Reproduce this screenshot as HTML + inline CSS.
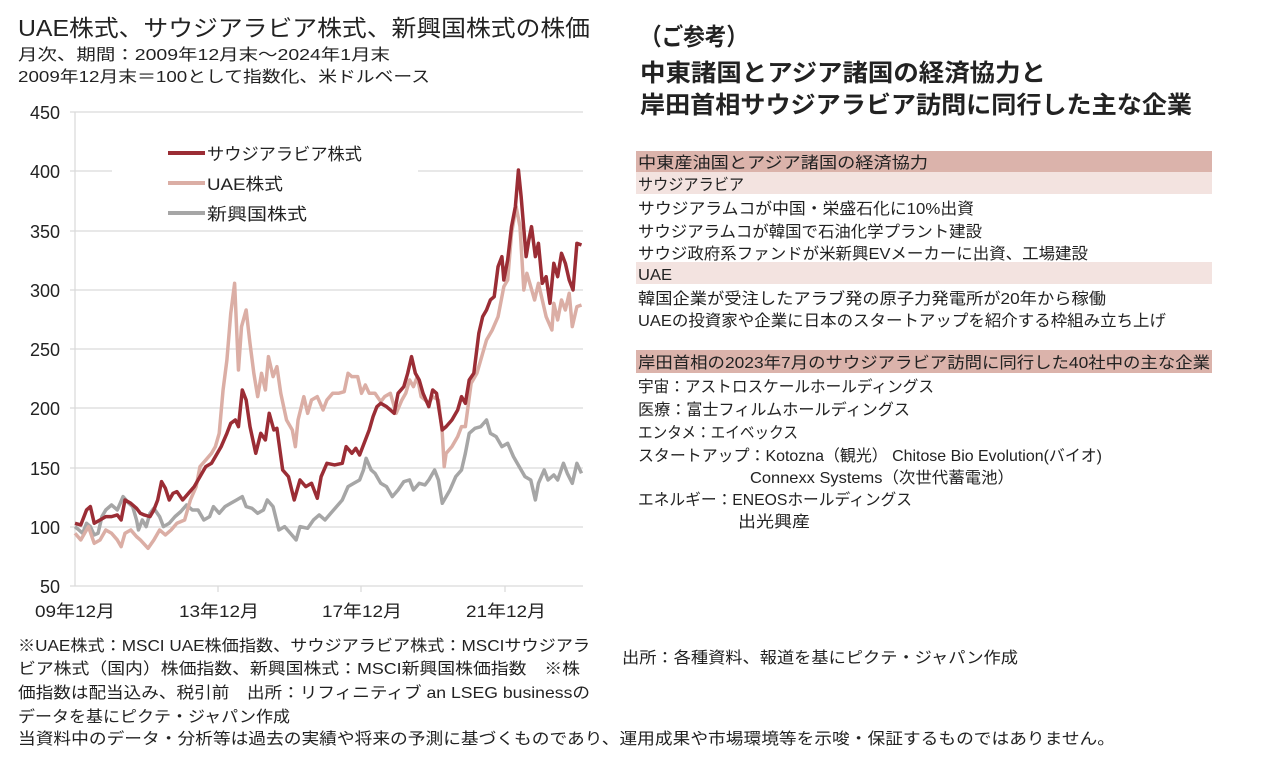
<!DOCTYPE html>
<html><head><meta charset="utf-8"><style>
html,body{margin:0;padding:0;background:#fff;}
svg{display:block;}
text{font-family:"Liberation Sans","Noto Sans CJK JP",sans-serif;fill:#222;}
</style></head><body>
<svg width="1280" height="769" viewBox="0 0 1280 769" xmlns="http://www.w3.org/2000/svg">
<!-- Titles -->
<text x="18" y="36" font-size="23" textLength="572" lengthAdjust="spacingAndGlyphs">UAE株式、サウジアラビア株式、新興国株式の株価</text>
<text x="18" y="60" font-size="16" textLength="372" lengthAdjust="spacingAndGlyphs">月次、期間：2009年12月末～2024年1月末</text>
<text x="18" y="82" font-size="16" textLength="412" lengthAdjust="spacingAndGlyphs">2009年12月末＝100として指数化、米ドルベース</text>

<text x="640" y="45" font-size="24" font-weight="bold" textLength="108" lengthAdjust="spacingAndGlyphs">（ご参考）</text>
<text x="640" y="81" font-size="24" font-weight="bold" textLength="406" lengthAdjust="spacingAndGlyphs">中東諸国とアジア諸国の経済協力と</text>
<text x="640" y="113" font-size="24" font-weight="bold" textLength="552" lengthAdjust="spacingAndGlyphs">岸田首相サウジアラビア訪問に同行した主な企業</text>

<!-- Chart grid -->
<g stroke="#d9d9d9" stroke-width="1.2">
<line x1="75" y1="112" x2="583" y2="112"/>
<line x1="75" y1="171" x2="112" y2="171"/><line x1="418" y1="171" x2="583" y2="171"/>
<line x1="75" y1="231" x2="583" y2="231"/>
<line x1="75" y1="290" x2="583" y2="290"/>
<line x1="75" y1="349" x2="583" y2="349"/>
<line x1="75" y1="408" x2="583" y2="408"/>
<line x1="75" y1="468" x2="583" y2="468"/>
<line x1="75" y1="527" x2="583" y2="527"/>
<line x1="75" y1="586" x2="583" y2="586"/>
<line x1="75" y1="112" x2="75" y2="586"/>
<line x1="70" y1="112" x2="75" y2="112"/><line x1="70" y1="171" x2="75" y2="171"/><line x1="70" y1="231" x2="75" y2="231"/><line x1="70" y1="290" x2="75" y2="290"/><line x1="70" y1="349" x2="75" y2="349"/><line x1="70" y1="408" x2="75" y2="408"/><line x1="70" y1="468" x2="75" y2="468"/><line x1="70" y1="527" x2="75" y2="527"/><line x1="70" y1="586" x2="75" y2="586"/>
<line x1="218" y1="586" x2="218" y2="592"/><line x1="361" y1="586" x2="361" y2="592"/><line x1="505" y1="586" x2="505" y2="592"/>
</g>
<g font-size="18" text-anchor="end" fill="#333">
<text x="60" y="119">450</text><text x="60" y="178">400</text><text x="60" y="238">350</text><text x="60" y="297">300</text><text x="60" y="356">250</text><text x="60" y="415">200</text><text x="60" y="475">150</text><text x="60" y="534">100</text><text x="60" y="593">50</text>
</g>
<g font-size="17" text-anchor="middle">
<text x="75" y="617" textLength="80" lengthAdjust="spacingAndGlyphs">09年12月</text>
<text x="219" y="617" textLength="80" lengthAdjust="spacingAndGlyphs">13年12月</text>
<text x="362" y="617" textLength="80" lengthAdjust="spacingAndGlyphs">17年12月</text>
<text x="506" y="617" textLength="80" lengthAdjust="spacingAndGlyphs">21年12月</text>
</g>

<!-- Series (zoom coords) -->
<g transform="translate(0,100) scale(0.3846,0.3333)" fill="none" stroke-linejoin="round">
<polyline vector-effect="non-scaling-stroke" stroke="#a6a6a6" stroke-width="3.5" points="195,1280 205,1290 215,1300 225,1270 235,1280 245,1305 255,1300 265,1250 275,1230 290,1215 305,1230 320,1190 335,1210 345,1220 355,1260 360,1290 370,1260 380,1280 390,1240 400,1225 415,1250 425,1280 440,1270 455,1250 470,1235 485,1215 500,1230 515,1230 530,1260 545,1250 555,1220 570,1240 585,1220 600,1210 615,1200 630,1190 640,1220 655,1225 670,1240 685,1230 695,1200 710,1220 725,1290 740,1280 755,1300 770,1320 780,1280 800,1285 815,1260 830,1245 845,1260 860,1240 875,1220 890,1200 905,1160 920,1150 935,1140 945,1110 952,1075 965,1110 975,1120 990,1150 1005,1160 1020,1190 1035,1170 1050,1145 1065,1140 1075,1170 1090,1150 1105,1155 1115,1140 1130,1110 1140,1140 1150,1210 1160,1190 1170,1170 1185,1130 1200,1110 1210,1060 1220,1000 1235,985 1250,980 1265,960 1275,1000 1290,1010 1305,1040 1320,1030 1335,1070 1350,1100 1365,1130 1380,1140 1392,1200 1400,1150 1415,1110 1425,1140 1440,1125 1450,1140 1465,1090 1475,1120 1488,1150 1500,1090 1512,1120"/>
<polyline vector-effect="non-scaling-stroke" stroke="#dbaea5" stroke-width="3.5" points="195,1300 210,1320 220,1300 230,1280 245,1330 260,1320 275,1290 290,1300 305,1320 315,1340 325,1300 340,1290 355,1310 365,1320 385,1345 400,1320 415,1290 430,1305 445,1290 460,1270 480,1260 495,1200 510,1160 520,1100 535,1080 550,1060 560,1040 570,1000 580,870 590,780 600,640 610,550 620,810 628,680 640,630 650,730 660,820 670,890 680,820 690,870 698,770 710,830 720,800 730,880 745,960 760,990 768,1040 775,960 790,890 800,940 810,900 825,890 840,930 850,900 865,880 880,880 895,875 905,820 915,830 930,830 940,880 950,855 960,880 975,880 990,905 1000,890 1015,880 1030,940 1045,900 1055,880 1065,840 1075,860 1085,830 1095,890 1105,900 1115,910 1125,890 1140,900 1150,1000 1155,1100 1160,1060 1175,1040 1190,1010 1200,980 1210,980 1225,850 1240,820 1255,760 1265,720 1280,690 1295,650 1310,560 1320,540 1330,400 1342,320 1352,380 1362,570 1370,520 1380,560 1390,600 1400,550 1410,600 1420,650 1435,690 1440,610 1450,660 1460,600 1470,630 1480,580 1488,680 1500,620 1512,615"/>
<polyline vector-effect="non-scaling-stroke" stroke="#9b2d35" stroke-width="3.5" points="195,1270 210,1275 225,1230 235,1220 245,1270 260,1260 275,1250 290,1250 305,1245 315,1260 325,1200 340,1210 355,1225 365,1240 375,1245 390,1250 400,1230 410,1200 420,1145 430,1165 440,1200 450,1180 460,1175 475,1200 490,1180 505,1160 520,1130 535,1100 550,1090 560,1070 575,1040 590,1000 600,970 612,960 620,980 630,870 640,900 650,980 665,1060 678,1000 690,1020 700,940 712,990 720,985 735,1110 750,1130 765,1200 780,1140 795,1160 810,1150 825,1195 835,1130 850,1090 870,1095 890,1090 900,1040 915,1060 925,1045 935,1065 950,1020 960,990 970,950 980,920 990,910 1005,920 1015,930 1025,940 1035,880 1050,860 1060,820 1070,770 1080,820 1090,840 1100,880 1115,920 1125,870 1135,880 1150,990 1160,980 1175,960 1190,930 1200,890 1210,910 1220,840 1232,820 1245,700 1255,650 1265,630 1275,600 1285,590 1295,500 1305,470 1310,540 1320,480 1330,380 1340,320 1348,210 1355,290 1368,470 1375,420 1382,380 1392,470 1400,430 1410,550 1420,530 1430,610 1440,490 1450,530 1460,460 1470,490 1480,540 1490,570 1500,430 1512,435"/>
</g>

<!-- Legend -->
<line x1="168" y1="153" x2="205" y2="153" stroke="#9b2d35" stroke-width="4"/>
<line x1="168" y1="183" x2="205" y2="183" stroke="#dbaea5" stroke-width="4"/>
<line x1="168" y1="213" x2="205" y2="213" stroke="#a6a6a6" stroke-width="4"/>
<text x="207" y="160" font-size="17" textLength="155" lengthAdjust="spacingAndGlyphs">サウジアラビア株式</text>
<text x="207" y="190" font-size="17" textLength="76" lengthAdjust="spacingAndGlyphs">UAE株式</text>
<text x="207" y="220" font-size="17" textLength="100" lengthAdjust="spacingAndGlyphs">新興国株式</text>

<!-- Table -->
<rect x="636" y="151" width="576" height="21" fill="#dbb3ab"/>
<rect x="636" y="172" width="576" height="22" fill="#f3e3e0"/>
<rect x="636" y="262" width="576" height="22" fill="#f3e3e0"/>
<rect x="636" y="350" width="576" height="23" fill="#dbb3ab"/>
<g font-size="16">
<text x="638" y="168" textLength="290" lengthAdjust="spacingAndGlyphs">中東産油国とアジア諸国の経済協力</text>
<text x="638" y="190" textLength="106" lengthAdjust="spacingAndGlyphs">サウジアラビア</text>
<text x="638" y="214" textLength="336" lengthAdjust="spacingAndGlyphs">サウジアラムコが中国・栄盛石化に10%出資</text>
<text x="638" y="237" textLength="344" lengthAdjust="spacingAndGlyphs">サウジアラムコが韓国で石油化学プラント建設</text>
<text x="638" y="259" textLength="450" lengthAdjust="spacingAndGlyphs">サウジ政府系ファンドが米新興EVメーカーに出資、工場建設</text>
<text x="638" y="280" textLength="34" lengthAdjust="spacingAndGlyphs">UAE</text>
<text x="638" y="304" textLength="468" lengthAdjust="spacingAndGlyphs">韓国企業が受注したアラブ発の原子力発電所が20年から稼働</text>
<text x="638" y="326" textLength="528" lengthAdjust="spacingAndGlyphs">UAEの投資家や企業に日本のスタートアップを紹介する枠組み立ち上げ</text>
<text x="638" y="368" textLength="572" lengthAdjust="spacingAndGlyphs">岸田首相の2023年7月のサウジアラビア訪問に同行した40社中の主な企業</text>
<text x="638" y="392" textLength="296" lengthAdjust="spacingAndGlyphs">宇宙：アストロスケールホールディングス</text>
<text x="638" y="415" textLength="272" lengthAdjust="spacingAndGlyphs">医療：富士フィルムホールディングス</text>
<text x="638" y="438" textLength="160" lengthAdjust="spacingAndGlyphs">エンタメ：エイベックス</text>
<text x="638" y="461" textLength="464" lengthAdjust="spacingAndGlyphs">スタートアップ：Kotozna（観光）  Chitose Bio Evolution(バイオ)</text>
<text x="750" y="483" textLength="264" lengthAdjust="spacingAndGlyphs">Connexx Systems（次世代蓄電池）</text>
<text x="638" y="505" textLength="274" lengthAdjust="spacingAndGlyphs">エネルギー：ENEOSホールディングス</text>
<text x="738" y="527" textLength="72" lengthAdjust="spacingAndGlyphs">出光興産</text>
</g>

<!-- Footnotes -->
<g font-size="16">
<text x="18" y="651" textLength="572" lengthAdjust="spacingAndGlyphs">※UAE株式：MSCI UAE株価指数、サウジアラビア株式：MSCIサウジアラ</text>
<text x="18" y="674" textLength="562" lengthAdjust="spacingAndGlyphs">ビア株式（国内）株価指数、新興国株式：MSCI新興国株価指数　※株</text>
<text x="18" y="698" textLength="572" lengthAdjust="spacingAndGlyphs">価指数は配当込み、税引前　出所：リフィニティブ an LSEG businessの</text>
<text x="18" y="722" textLength="272" lengthAdjust="spacingAndGlyphs">データを基にピクテ・ジャパン作成</text>
<text x="622" y="663" textLength="396" lengthAdjust="spacingAndGlyphs">出所：各種資料、報道を基にピクテ・ジャパン作成</text>
<text x="18" y="744" textLength="1097" lengthAdjust="spacingAndGlyphs">当資料中のデータ・分析等は過去の実績や将来の予測に基づくものであり、運用成果や市場環境等を示唆・保証するものではありません。</text>
</g>
</svg>
</body></html>
